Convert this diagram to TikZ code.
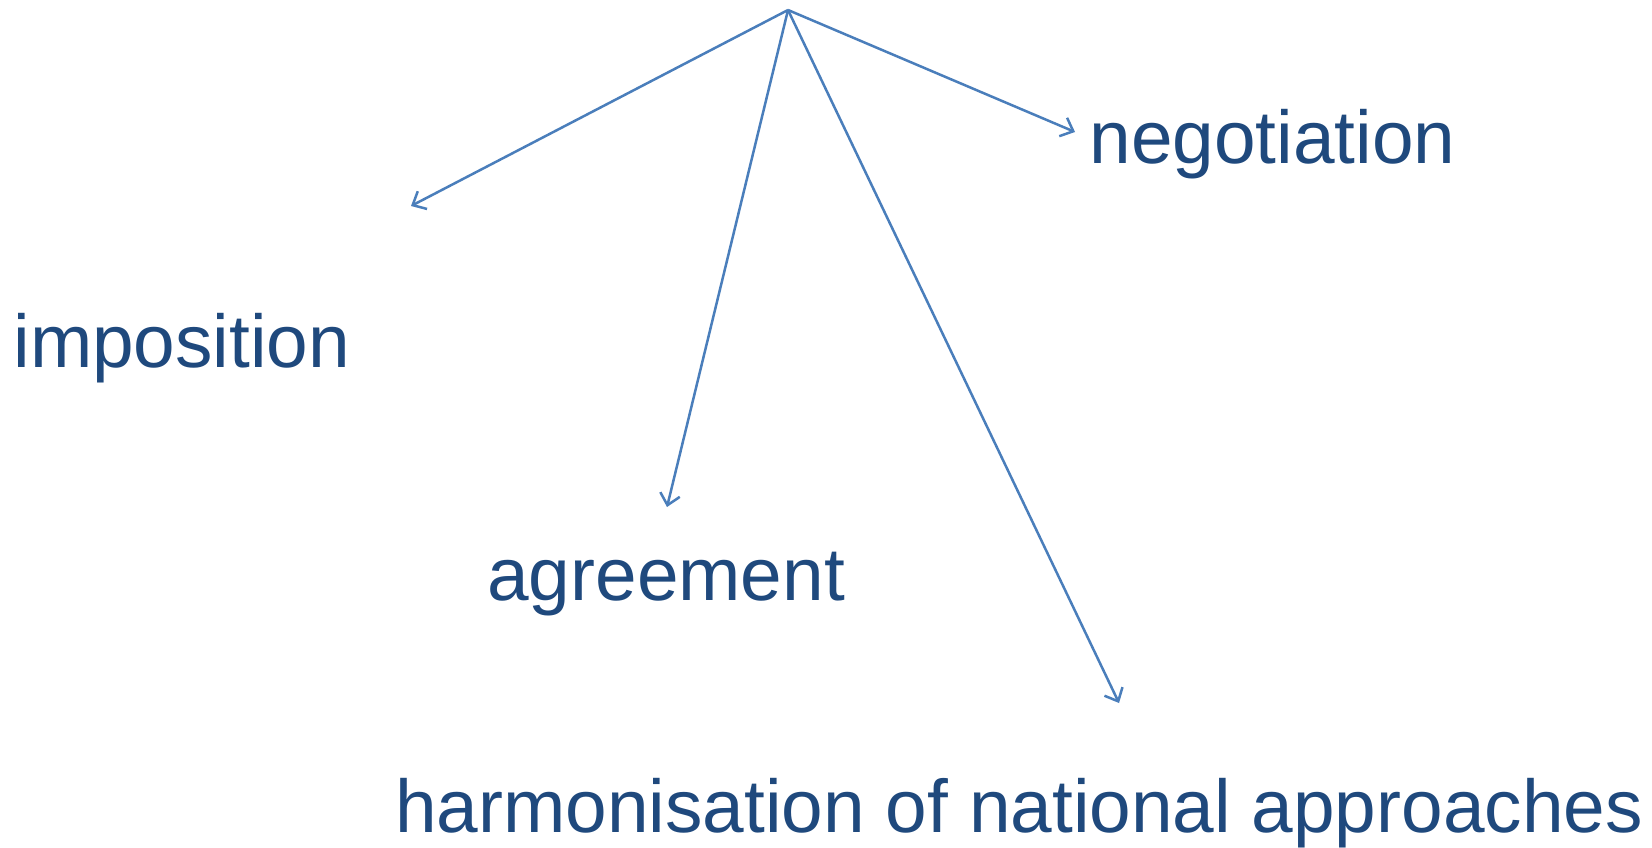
\documentclass[tikz,border=0pt]{standalone}
\usepackage{fontspec}
\setmainfont{Liberation Sans}
\usetikzlibrary{arrows.meta}
\definecolor{linkblue}{HTML}{4A7EBB}
\definecolor{wordblue}{HTML}{1F497D}
\tikzset{
 word/.style={anchor=base west, inner sep=0pt, text=wordblue, font=\fontsize{37.4}{45}\selectfont},
 link/.style={draw=linkblue, line width=1.25pt, -{Straight Barb[length=5.5pt,width=10pt]}}
}
\begin{document}
\begin{tikzpicture}[x=0.5pt,y=-0.5pt]
 \useasboundingbox (0,0) rectangle (1652,847);

 \coordinate (top) at (788,10);
 \coordinate (Timp) at (411,206);
 \coordinate (Tagr) at (667,507);
 \coordinate (Tneg) at (1075,132);
 \coordinate (Thar) at (1119,703);

 \node[word] (neg) at (1089,163) {negotiation};
 \node[word] (imp) at (13,367) {imposition};
 \node[word] (agr) at (487,600) {agreement};
 \node[word] (har) at (395,832) {harmonisation of national approaches};

 \foreach \t in {imp,agr,neg,har} {
  \draw[link] (top) -- (T\t);
 }
\end{tikzpicture}
\end{document}
